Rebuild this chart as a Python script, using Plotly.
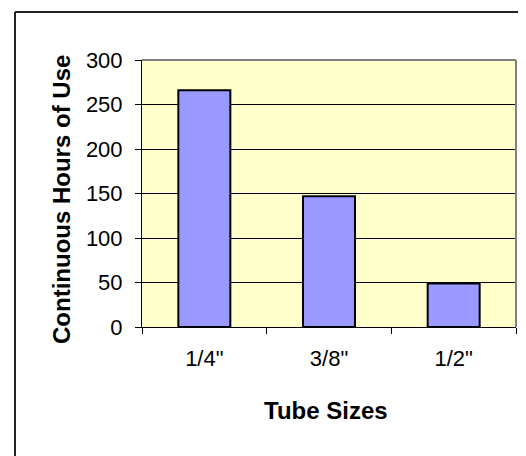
import plotly.graph_objects as go

categories = ['1/4"', '3/8"', '1/2"']
hours = [266, 147, 49]
y_ticks = [0, 50, 100, 150, 200, 250, 300]
x_title = "Tube Sizes"
y_title = "Continuous Hours of Use"

W, H = 526, 456
L, R, T, B = 134, 18, 52, 137
pw, ph = W - L - R, H - T - B

def px_x(px):
    return (px - L) / pw

def px_y(py):
    return (H - B - py) / ph

font_family = "Arial, Liberation Sans, sans-serif"

fig = go.Figure(
    go.Bar(
        x=categories,
        y=hours,
        marker=dict(color="#9999FF", line=dict(color="#000000", width=2)),
    )
)

fig.update_layout(
    width=W,
    height=H,
    margin=dict(l=L, r=R, t=T, b=B, autoexpand=False),
    paper_bgcolor="white",
    plot_bgcolor="#FFFFCC",
    bargap=0.583,
    showlegend=False,
    font=dict(family=font_family, color="black"),
)

fig.update_xaxes(
    showline=True,
    linecolor="black",
    linewidth=1,
    ticks="outside",
    ticklen=6,
    tickcolor="black",
    tickson="boundaries",
    tickfont=dict(size=22, family=font_family, color="black"),
    ticklabelstandoff=12,
    showgrid=False,
)

fig.update_yaxes(
    range=[0, 300],
    tickvals=y_ticks,
    showline=True,
    linecolor="black",
    linewidth=1,
    ticks="outside",
    ticklen=6,
    tickcolor="black",
    tickfont=dict(size=22, family=font_family, color="black"),
    ticklabelstandoff=8,
    showgrid=True,
    gridcolor="#000000",
    gridwidth=1,
    zeroline=False,
)

fig.update_layout(
    shapes=[
        # gray frame on top and right of plot area
        dict(type="line", xref="paper", yref="paper", x0=0, x1=1, y0=1, y1=1,
             line=dict(color="#808080", width=2)),
        dict(type="line", xref="paper", yref="paper", x0=1, x1=1, y0=0, y1=1,
             line=dict(color="#808080", width=2)),
        # outer chart border (left and top visible)
        dict(type="line", xref="paper", yref="paper", x0=px_x(7), x1=px_x(7),
             y0=px_y(4), y1=px_y(H + 5), line=dict(color="#222222", width=2)),
        dict(type="line", xref="paper", yref="paper", x0=px_x(7), x1=px_x(W + 5),
             y0=px_y(4), y1=px_y(4), line=dict(color="#222222", width=2)),
    ],
    annotations=[
        dict(text="<b>" + x_title + "</b>", xref="paper", yref="paper",
             x=px_x(318), y=px_y(403), xanchor="center", yanchor="middle",
             showarrow=False, font=dict(size=24, family=font_family, color="black")),
        dict(text="<b>" + y_title + "</b>", xref="paper", yref="paper",
             x=px_x(53), y=px_y(192), xanchor="center", yanchor="middle",
             textangle=-90, showarrow=False,
             font=dict(size=24, family=font_family, color="black")),
    ],
)

fig.write_html("out.html")
